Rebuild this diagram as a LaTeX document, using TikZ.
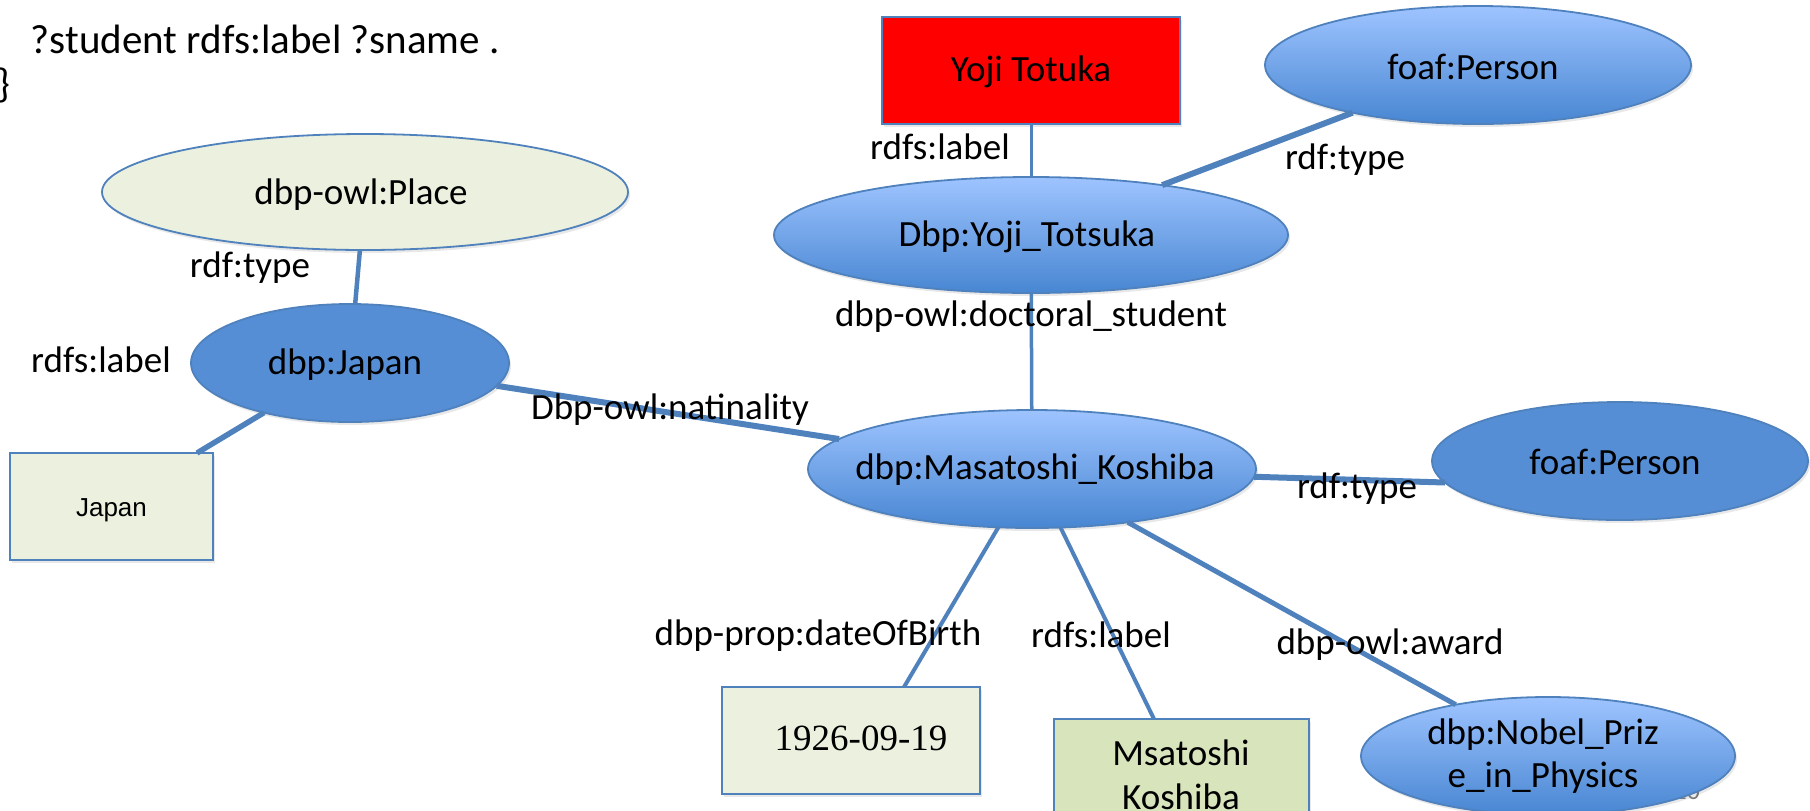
\documentclass[tikz,border=0pt]{standalone}
\usepackage{fontspec}
\setmainfont{Carlito}
\newfontfamily\timesf{Liberation Serif}
\newfontfamily\arialf{Liberation Sans}
\usetikzlibrary{shapes.geometric,shadows}
\definecolor{lineblue}{RGB}{79,129,189}
\definecolor{gradtop}{RGB}{158,196,255}
\definecolor{gradbot}{RGB}{72,134,210}
\definecolor{solidblue}{RGB}{85,142,213}
\definecolor{palegreen}{RGB}{235,241,222}
\definecolor{olivegreen}{RGB}{216,228,188}
\definecolor{pagegray}{RGB}{120,120,120}
\begin{document}
\begin{tikzpicture}[x=0.5pt,y=-0.5pt,
  every node/.style={inner sep=0pt, outer sep=0pt},
  txt/.style={font=\fontsize{18.5}{22}\selectfont, text=black},
  shd/.style={drop shadow={opacity=0.18, shadow xshift=1pt, shadow yshift=-1.5pt}},
  gell/.style={ellipse, draw=lineblue, line width=0.9pt, top color=gradtop, bottom color=gradbot, shd},
  sell/.style={ellipse, draw=lineblue, line width=0.9pt, fill=solidblue, shd},
  pell/.style={ellipse, draw=lineblue, line width=0.9pt, fill=palegreen, shd},
  boxs/.style={rectangle, draw=lineblue, line width=1pt, shd},
  edg/.style={draw=lineblue}
]
\useasboundingbox (0,0) rectangle (1810,810);
\clip (0,0) rectangle (1810,810);

% query text fragment
\node[anchor=base west, font=\fontsize{20.5}{25}\selectfont] (q1) at (31,53) {?student rdfs:label ?sname .};
\node[anchor=base west, font=\fontsize{20.5}{25}\selectfont] (q2) at (-3,97) {\}};

% page number (mostly hidden)
\node[anchor=base east, font=\fontsize{13}{15}\selectfont, text=pagegray] (pg) at (1700,799) {10};

% nodes
\node[boxs, fill=red, minimum width=149pt, minimum height=53.5pt] (red) at (1031,70.5) {};
\node[txt] (redt) at (1031,72) {Yoji Totuka};
\node[gell, minimum width=213pt, minimum height=59pt] (fpt) at (1478,65) {};
\node[txt] (fptt) at (1473,67) {foaf:Person};
\node[gell, minimum width=257pt, minimum height=58pt] (yoji) at (1031,235) {};
\node[txt] (yojit) at (1027,237) {Dbp:Yoji\_Totsuka};
\node[pell, minimum width=263pt, minimum height=58pt] (place) at (365,192) {};
\node[txt] (placet) at (361,195) {dbp-owl:Place};
\node[sell, minimum width=159pt, minimum height=59pt] (jp) at (350,363) {};
\node[txt] (jpt) at (345,365) {dbp:Japan};
\node[boxs, fill=palegreen, minimum width=101.5pt, minimum height=53.5pt] (jbox) at (111.5,506.5) {};
\node[font={\arialf\fontsize{13}{15}\selectfont}] (jboxt) at (111.5,510) {Japan};
\node[gell, minimum width=224pt, minimum height=59pt] (mk) at (1032,469) {};
\node[txt] (mkt) at (1035,470) {dbp:Masatoshi\_Koshiba};
\node[sell, minimum width=188pt, minimum height=59pt] (fpr) at (1620,461) {};
\node[txt] (fprt) at (1615,462) {foaf:Person};
\node[boxs, fill=palegreen, minimum width=129pt, minimum height=53.5pt] (bd) at (851,740.5) {};
\node[font={\timesf\fontsize{18.5}{22}\selectfont}] (bdt) at (861,738) {1926-09-19};
\node[boxs, fill=olivegreen, minimum width=127.5pt, minimum height=53.5pt] (ms) at (1181.5,772.5) {};
\node[txt, align=center] (mst) at (1181,775) {Msatoshi\\Koshiba};
\node[gell, minimum width=187pt, minimum height=59pt] (nb) at (1548,756) {};
\node[txt, align=center, font=\fontsize{18.5}{21.5}\selectfont] (nbt) at (1543,756) {dbp:Nobel\_Priz\\e\_in\_Physics};

% edges
\draw[edg, line width=1.5pt] (red) -- (yoji);
\draw[edg, line width=3pt] (yoji) -- (fpt);
\draw[edg, line width=1.75pt] (yoji) -- (mk);
\draw[edg, line width=2.25pt] (place) -- (jp);
\draw[edg, line width=2.75pt] (jp.210.8) -- ([xshift=-8pt]jbox.north east);
\draw[edg, line width=3pt] (jp) -- (mk);
\draw[edg, line width=3pt] (mk.-2) -- (fpr.187);
\draw[edg, line width=2pt] (mk.-120) -- ([xshift=26.5pt]bd.north);
\draw[edg, line width=2pt] (mk.-64) -- ([xshift=-13.75pt]ms.north);
\draw[edg, line width=2.5pt] (mk) -- (nb);

% edge labels
\node[txt] (l1) at (940,147) {rdfs:label};
\node[txt] (l2) at (1345,160) {rdf:type};
\node[txt] (l3) at (1031,317) {dbp-owl:doctoral\_student};
\node[txt] (l4) at (250,268) {rdf:type};
\node[txt] (l5) at (101,360) {rdfs:label};
\node[txt] (l6) at (670,410) {Dbp-owl:natinality};
\node[txt] (l7) at (1357,489) {rdf:type};
\node[txt] (l8) at (818,636) {dbp-prop:dateOfBirth};
\node[txt] (l9) at (1101,635) {rdfs:label};
\node[txt] (l10) at (1390,645) {dbp-owl:award};
\end{tikzpicture}
\end{document}
